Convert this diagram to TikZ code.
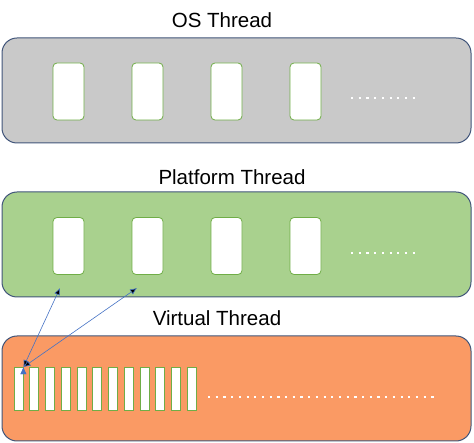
\documentclass[tikz,border=0pt]{standalone}
\usepackage{fontspec}
\setmainfont{Liberation Sans}
\usetikzlibrary{arrows,arrows.meta,positioning}

\definecolor{bandline}{HTML}{41557A}
\definecolor{osgray}{HTML}{C9C9C9}
\definecolor{ptgreen}{HTML}{A9D18E}
\definecolor{vtorange}{HTML}{FA9A64}
\definecolor{slotline}{HTML}{70AD47}
\definecolor{arrowblue}{HTML}{4472C4}

\begin{document}
\begin{tikzpicture}[x=1pt, y=-1pt, node distance=79pt, auto,
    band/.style={draw=bandline, line width=1pt, rounded corners=15pt,
      minimum width=469pt, minimum height=105pt, inner sep=0pt},
    slot/.style={draw=slotline, fill=white, line width=0.8pt, rounded corners=4pt,
      minimum width=31pt, minimum height=57pt, inner sep=0pt},
    vslot/.style={draw=slotline, fill=white, line width=0.8pt,
      minimum width=9pt, minimum height=43pt, inner sep=0pt},
    title/.style={font=\fontsize{20.5}{24}\selectfont},
    more/.style={white, line width=2.2pt, dash pattern=on 2.2pt off 5.5pt}]

            \useasboundingbox (0,0) rectangle (474,443);

            % OS threads
            \node[title] (OST) at (222,20) {OS Thread};
            \node[band, fill=osgray] (OS) at (236.5,90.5) {};
            \node[slot] (O1) at (68.5,91.5) {};
            \node[slot] (O2) [right of=O1] {};
            \node[slot] (O3) [right of=O2] {};
            \node[slot] (O4) [right of=O3] {};
            \draw[more] (351,98) -- (420,98);

            % platform threads
            \node[title] (PTT) at (232,177) {Platform Thread};
            \node[band, fill=ptgreen] (PT) at (236.5,244.5) {};
            \node[slot] (P1) at (68.5,246) {};
            \node[slot] (P2) [right of=P1] {};
            \node[slot] (P3) [right of=P2] {};
            \node[slot] (P4) [right of=P3] {};
            \draw[more] (351,253) -- (420,253);

            % virtual threads
            \node[title] (VTT) at (217,318) {Virtual Thread};
            \node[band, fill=vtorange] (VT) at (236.5,388.5) {};
            \begin{scope}[node distance=15.75pt]
              \node[vslot] (V1) at (18.5,389) {};
              \foreach \i [remember=\i as \j (initially 1)] in {2,...,12}
                \node[vslot] (V\i) [right of=V\j] {};
            \end{scope}
            \draw[more] (208,397) -- (435,397);

            \coordinate (A1) at (60,288);
            \coordinate (A2) at (137,288);
            \path[{Latex[length=7pt,width=6pt]}-{Latex[length=7pt,width=6pt]},
                  draw=arrowblue, line width=0.6pt]
                (V1.north east) edge (A1)
                                edge (A2);
        \end{tikzpicture}
\end{document}
